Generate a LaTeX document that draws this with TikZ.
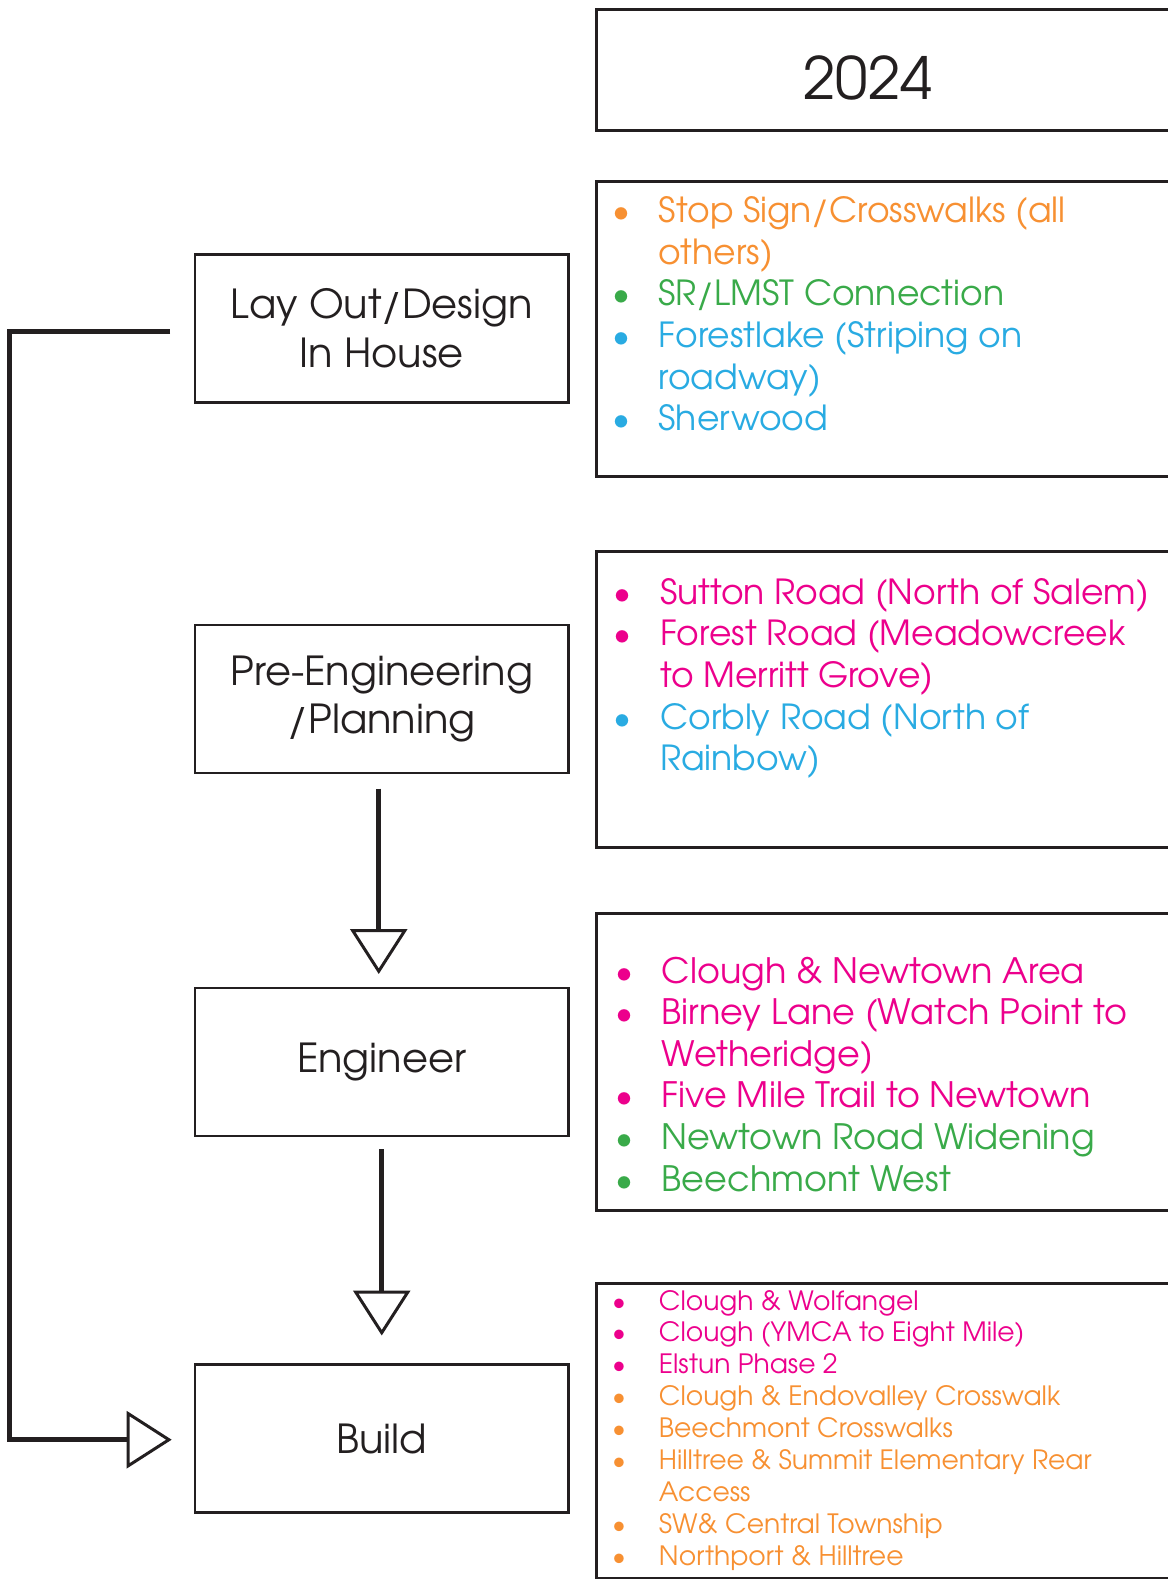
\documentclass[tikz,border=0pt]{standalone}
\usepackage{fontspec}
\setmainfont{TeX Gyre Adventor}
\usetikzlibrary{arrows.meta}

\definecolor{ink}{RGB}{35,31,32}
\definecolor{orng}{RGB}{247,144,50}
\definecolor{grn}{RGB}{57,170,73}
\definecolor{blu}{RGB}{41,171,226}
\definecolor{mgnt}{RGB}{236,0,140}

\tikzset{
  stage/.style={draw=ink, line width=2.5pt, outer sep=0pt, inner sep=0pt,
    minimum width=373.5pt, minimum height=148pt, anchor=north west,
    align=center, text=ink, font=\fontsize{40}{48.3}\selectfont},
  plan/.style={draw=ink, line width=3pt, outer sep=0pt, inner sep=0pt,
    minimum width=600pt, anchor=north west},
  item/.style={anchor=base west, inner sep=0pt, font=\fontsize{34.6}{34.6}\selectfont},
  dot/.style={anchor=base, inner sep=0pt, font=\fontsize{34.6}{34.6}\selectfont},
  flow/.style={draw=ink, line width=5pt,
    -{Triangle[open, length=45pt, width=57pt, line width=3pt]}},
}

\begin{document}
\begin{tikzpicture}[x=1pt, y=-1pt]
  \useasboundingbox (0,0) rectangle (1167,1579);

  % stages
  \node[stage] (lay) at (195,254.3) {Lay Out/Design\\In House};
  \node[stage] (pre) at (195,625) {Pre-Engineering\\/Planning};
  \node[stage] (eng) at (195,988) {Engineer};
  \node[stage] (build) at (195,1364.5) {Build};

  \draw[flow] ([xshift=-3pt,yshift=-15.7pt]pre.south) -- ([xshift=-3pt,yshift=14pt]eng.north);
  \draw[flow] ([yshift=-13pt]eng.south) -- ([yshift=29pt]build.north);
  \draw[flow] ([xshift=-25pt,yshift=-2.8pt]lay.west) -- ++(-160.2,0)
              |- ([xshift=-23.3pt,yshift=-1.2pt]build.west);

  % year plan
  \node[plan, minimum height=120pt] (yearbox) at (596.7,10) {};
  \node[anchor=base, inner sep=0pt, text=ink, font=\fontsize{58.3}{58.3}\selectfont]
    (year) at (868,99.3) {2024};

  \node[plan, minimum height=295pt] (box1) at (596.7,181) {};
  \node[plan, minimum height=295.6pt] (box2) at (596.7,551.7) {};
  \node[plan, minimum height=296.7pt] (box3) at (596.7,913.3) {};
  \node[plan, minimum height=295.5pt] (box4) at (596.7,1283) {};

  \foreach \c/\b/\t [count=\i from 0] in {
      orng/1/{Stop Sign/Crosswalks (all}, orng/0/{others)},
      grn/1/{SR/LMST Connection}, blu/1/{Forestlake (Striping on},
      blu/0/{roadway)}, blu/1/{Sherwood}}
    {
      \node[item, text=\c] (a\i) at (658.5,{222.3+41.7*\i}) {\t};
      \ifnum\b=1 \node[dot, text=\c] (ab\i) at (621,{222.3+41.7*\i}) {•}; \fi
    }

  \foreach \c/\b/\t [count=\i from 0] in {
      mgnt/1/{Sutton Road (North of Salem)}, mgnt/1/{Forest Road (Meadowcreek},
      mgnt/0/{to Merritt Grove)}, blu/1/{Corbly Road (North of},
      blu/0/{Rainbow)}}
    {
      \node[item, text=\c] (b\i) at (660,{604+41.7*\i}) {\t};
      \ifnum\b=1 \node[dot, text=\c] (bb\i) at (622.5,{604+41.7*\i}) {•}; \fi
    }

  \foreach \c/\b/\t [count=\i from 0] in {
      mgnt/1/{Clough \& Newtown Area}, mgnt/1/{Birney Lane (Watch Point to},
      mgnt/0/{Wetheridge)}, mgnt/1/{Five Mile Trail to Newtown},
      grn/1/{Newtown Road Widening}, grn/1/{Beechmont West}}
    {
      \node[item, text=\c, font=\fontsize{35}{35}\selectfont] (c\i) at (661.7,{983.3+41.55*\i}) {\t};
      \ifnum\b=1 \node[dot, text=\c] (cb\i) at (624.7,{983.3+41.55*\i}) {•}; \fi
    }

  \foreach \c/\b/\t [count=\i from 0] in {
      mgnt/1/{Clough \& Wolfangel}, mgnt/1/{Clough (YMCA to Eight Mile)},
      mgnt/1/{Elstun Phase 2}, orng/1/{Clough \& Endovalley Crosswalk},
      orng/1/{Beechmont Crosswalks}, orng/1/{Hilltree \& Summit Elementary Rear},
      orng/0/{Access}, orng/1/{SW\& Central Township}, orng/1/{Northport \& Hilltree}}
    {
      \node[item, text=\c, font=\fontsize{26.6}{26.6}\selectfont] (d\i) at (658.7,{1310+31.95*\i}) {\t};
      \ifnum\b=1 \node[dot, text=\c, font=\fontsize{26.6}{26.6}\selectfont] (db\i) at (619,{1310+31.95*\i}) {•}; \fi
    }
\end{tikzpicture}
\end{document}
